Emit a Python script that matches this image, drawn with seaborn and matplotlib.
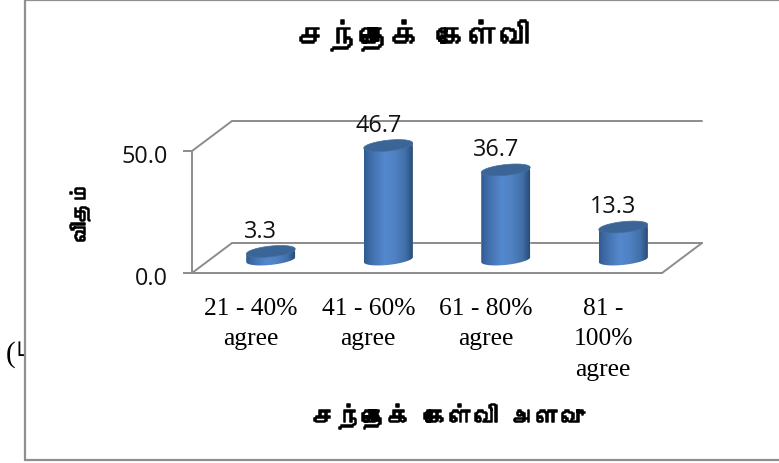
import warnings
import numpy as np
import pandas as pd
import matplotlib
matplotlib.use("Agg")
import matplotlib.pyplot as plt
import matplotlib.patheffects as pe
from matplotlib import font_manager as fm
from matplotlib.colors import LinearSegmentedColormap
from matplotlib.lines import Line2D
from matplotlib.patches import Polygon, Rectangle
from matplotlib.path import Path
from matplotlib.transforms import ScaledTranslation
from matplotlib.ft2font import FT2Font
import seaborn as sns

warnings.filterwarnings("ignore")

# ---- data ----
categories = ["21 - 40%\nagree", "41 - 60%\nagree", "61 - 80%\nagree", "81 -\n100%\nagree"]
values = [3.3, 46.7, 36.7, 13.3]
y_ticks = [0, 50]
title_text = "சந்தைக் கேள்வி"
xlabel_text = "சந்தைக் கேள்வி அளவு"
ylabel_text = "விதம்"
stray_bracket = "("
stray_text = "ட"

# ---- layout helpers (pixels of the 779x464 picture) ----
W, H = 779, 464
DPI = 100


def fx(x):
    return x / W


def fy(y):
    return 1 - y / H


def tamil_family():
    for f in fm.fontManager.ttflist:
        try:
            if 0x0B9A in FT2Font(f.fname).get_charmap():
                return f.name
        except Exception:
            pass
    return "DejaVu Sans"


sns.set_theme(style="white")
tamil = tamil_family()
GRAY = "#8c8c8c"
heavy = [pe.withStroke(linewidth=1.1, foreground="black")]

fig = plt.figure(figsize=(W / DPI, H / DPI), dpi=DPI, facecolor="white")

# text fragment cut by the chart frame, then the frame
fig.text(fx(6), fy(355), stray_bracket, family="Liberation Serif", fontsize=21, ha="left", va="center",
         color="black", zorder=-2)
fig.text(fx(12), fy(352), stray_text, family=tamil, fontsize=21, ha="left", va="center",
         color="black", zorder=-2)
fig.add_artist(Rectangle((fx(24.5), fy(460.5)), fx(W + 10 - 24.5), fy(0.5) - fy(460.5),
                         transform=fig.transFigure, facecolor="white", edgecolor="#8f8f8f",
                         linewidth=1.6, zorder=-1))

# 3-D box: back wall and floor
for (x0, y0), (x1, y1) in [((192, 274), (662, 274)), ((662, 274), (702, 244)),
                           ((702, 244), (232, 244)), ((232, 244), (192, 274)),
                           ((192, 152), (232, 122)), ((232, 122), (702, 122))]:
    fig.add_artist(Line2D([fx(x0), fx(x1)], [fy(y0), fy(y1)], transform=fig.transFigure,
                          color=GRAY, linewidth=1.4, zorder=0.5, solid_capstyle="round"))

# front plane: axis ticks and labels
ax = fig.add_axes([fx(192), fy(274), fx(470), fy(152) - fy(274)], facecolor="none", zorder=1)
ax.set_xlim(-0.5, len(categories) - 0.5)
ax.set_ylim(0, 50)
ax.set_yticks(y_ticks, [f"{v:.1f}" for v in y_ticks], fontfamily="Open Sans", fontsize=16.8, color="#111111")
ax.set_xticks(range(len(categories)), categories, fontfamily="Liberation Serif", fontsize=18.4,
              color="black", linespacing=1.5)
ax.tick_params(axis="y", length=6.5, width=1.4, color=GRAY, pad=11, left=True)
ax.tick_params(axis="x", length=0, pad=17)
down = ScaledTranslation(0, -2 / DPI, fig.dpi_scale_trans)
for lab in ax.get_yticklabels():
    lab.set_transform(lab.get_transform() + down)
for side in ("top", "right", "bottom"):
    ax.spines[side].set_visible(False)
ax.spines["left"].set_color(GRAY)
ax.spines["left"].set_linewidth(1.4)
ax.set_xlabel(xlabel_text, family=tamil, fontweight="bold", fontsize=17.8, color="black",
              path_effects=heavy)
ax.xaxis.set_label_coords(fx(449), fy(417), transform=fig.transFigure)
ax.xaxis.label.set_va("center")
ax.set_ylabel(ylabel_text, family=tamil, fontweight="bold", fontsize=14.5, color="black",
              path_effects=heavy)
ax.yaxis.set_label_coords(fx(80), fy(213), transform=fig.transFigure)
ax.yaxis.label.set_va("center")
fig.text(fx(414), fy(36), title_text, family=tamil, fontweight="bold", fontsize=22.2,
         ha="center", va="center", color="black", path_effects=heavy)

# mid-depth plane: the cylinders
PX_PER_UNIT = 2.44
ZERO_PX = 260.5
Y_LOW, Y_HIGH = -10, 60
ax_bar = fig.add_axes([fx(212), fy(ZERO_PX - Y_LOW * PX_PER_UNIT), fx(470),
                       fy(ZERO_PX - Y_HIGH * PX_PER_UNIT) - fy(ZERO_PX - Y_LOW * PX_PER_UNIT)],
                      facecolor="none", zorder=2)
df = pd.DataFrame({"category": categories, "value": values})
sns.barplot(data=df, x="category", y="value", ax=ax_bar, width=49 / 117.5, color="#4a7ab8",
            saturation=1, errorbar=None)
ax_bar.set_ylim(Y_LOW, Y_HIGH)
ax_bar.set_xlim(-0.5, len(categories) - 0.5)
ax_bar.axis("off")

body_cmap = LinearSegmentedColormap.from_list(
    "cyl", [(0, "#2f5b90"), (0.12, "#3f6ca8"), (0.42, "#5488cd"), (0.62, "#5082c4"),
            (0.85, "#416fa9"), (1, "#2b4c78")])
gradient = np.linspace(0, 1, 128).reshape(1, -1)
CAP_A = 5.4 / PX_PER_UNIT   # half height of the cap
CAP_S = 2.5 / PX_PER_UNIT   # tilt of the cap: the right end is higher
t = np.linspace(0, 2 * np.pi, 81)

for patch in list(ax_bar.patches):
    x0, w, v = patch.get_x(), patch.get_width(), patch.get_height()
    xc = x0 + w / 2
    ex = xc - w / 2 * np.cos(t)                # starts at the left end
    tilt = -CAP_S * np.cos(t)
    half = len(t) // 2
    # body outline: down the left side, lower half of the base ellipse, up the right side
    bottom_x = ex[:half + 1]
    bottom_y = (-CAP_A * np.sin(t) + tilt)[:half + 1]
    verts = np.column_stack([
        np.r_[xc - w / 2, bottom_x, xc + w / 2, xc - w / 2],
        np.r_[v - CAP_S, bottom_y, v + CAP_S, v - CAP_S]])
    clip = Path(verts)
    patch.set_clip_path(clip, ax_bar.transData)
    im = ax_bar.imshow(gradient, extent=(x0, x0 + w, Y_LOW, Y_HIGH), aspect="auto",
                       cmap=body_cmap, vmin=0, vmax=1, zorder=2, interpolation="bilinear")
    im.set_clip_path(clip, ax_bar.transData)
    ax_bar.add_patch(Polygon(np.column_stack([ex, v + CAP_A * np.sin(t) + tilt]), closed=True,
                             facecolor="#3b6596", edgecolor="#44719f", linewidth=0.5, zorder=3))
ax_bar.set_ylim(Y_LOW, Y_HIGH)
ax_bar.set_xlim(-0.5, len(categories) - 0.5)

labels = ax_bar.bar_label(ax_bar.containers[0], labels=[f"{v:.1f}" for v in values], padding=6.2,
                          fontfamily="Open Sans", fontsize=16.8, color="#111111", zorder=4)
for lab in labels:
    lab.xyann = (-7.2, lab.xyann[1])

fig.savefig("out.png", dpi=DPI, facecolor="white")
